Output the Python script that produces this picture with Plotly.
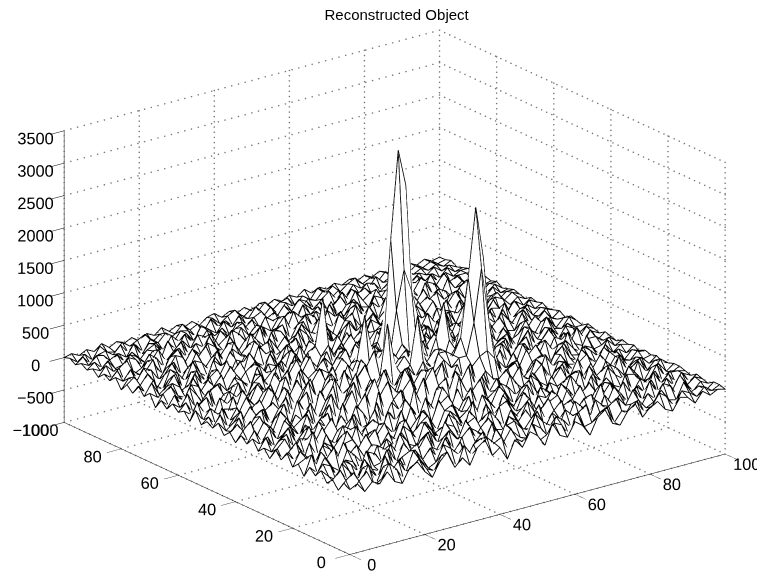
import math
import plotly.graph_objects as go

x_ticks = [0, 20, 40, 60, 80, 100]
y_ticks = [0, 20, 40, 60, 80, 100]
z_ticks = [-1000, -500, 0, 500, 1000, 1500, 2000, 2500, 3000, 3500]
grid_x = [i * 2 for i in range(51)]
grid_y = [i * 2 for i in range(51)]
# Heights, in steps of 30 (row = y, column = x)
z_steps = [
[0,2,-3,1,-1,4,-2,-4,3,5, -1,-5,2,6,-3,1,-4,4,7,-2, 1,-6,3,-2,5,2,-4,6,-1,-3, 4,1,-5,3,6,-2,-4,2,5,-3, 1,3,-2,-4,2,1,-3,2,-1,1, 0],
[2,-4,1,5,-3,-1,6,2,-5,1, 4,-2,-4,3,1,-6,5,-1,-3,6, 2,4,-5,1,-2,7,-3,-1,4,2, -5,6,-2,-1,3,5,-4,1,-2,4, -3,-1,5,2,-4,3,1,-2,2,-1, 1],
[-3,1,4,-2,6,-5,3,-1,4,-3, 7,1,-4,-2,6,3,-1,-5,2,4, -3,7,-1,5,-4,-2,4,1,-6,5, 2,-3,4,7,-4,-1,3,6,-5,1, 2,-3,-1,4,-2,-3,5,-1,1,-2, 1],
[1,5,-2,-5,3,1,-4,6,-2,2, -5,5,-1,4,-3,7,-2,3,-6,1, 5,-2,-4,6,1,-3,-5,7,2,-1, -4,5,1,-2,-5,6,2,-3,4,-1, 6,-4,2,-2,5,3,-4,2,-3,1, -1],
[-2,-3,6,1,-4,5,-1,-3,7,-4, 1,3,6,-5,2,-1,5,-4,3,7, -1,-3,6,-5,3,4,-1,-2,6,-4, 3,-1,-3,6,2,-2,-5,5,-1,3, -4,4,-3,6,-1,1,-2,5,-1,2, 0],
[3,-1,-4,5,2,-3,7,-2,-1,5, -3,6,-4,1,7,-3,-2,6,1,-5, 4,1,-2,3,-6,5,2,-4,1,7, -3,2,6,-4,-1,4,5,-3,-2,6, 1,-5,3,-1,4,-4,3,-2,4,-2, 1],
[-1,4,2,-6,3,1,-5,4,2,-6, 5,-1,2,-4,3,6,-5,1,4,-2, 7,-5,1,5,-2,-3,6,-1,4,-5, 2,7,-4,1,3,-6,2,-1,7,-4, -2,5,-2,1,-5,6,-1,3,-3,1, -1],
[2,-2,5,-1,-4,6,2,-3,-5,4, 1,-3,7,2,-6,1,4,-3,7,-1, -4,3,5,-3,6,1,-5,3,-2,6, -1,-4,3,5,-2,1,7,-5,2,-1, 4,-3,6,-4,2,-1,4,-3,2,1, 0],
[-4,6,-3,2,7,-4,1,5,-2,3, -6,4,-1,5,-2,-4,7,2,-5,3, 1,-6,7,-1,2,-4,5,7,-3,1, 5,-2,-1,6,-5,4,-3,1,5,-4, 3,1,-5,4,3,-3,-1,5,-2,-1, 1],
[1,3,-5,4,-1,-3,6,-4,1,7, -2,-1,5,-3,6,2,-4,5,-1,-6, 6,2,-4,3,-5,6,-1,-3,4,-2, 7,-5,3,1,-3,6,2,-4,-2,6, -1,3,-2,-4,6,1,-4,2,3,-2, 1],
[-2,5,1,-3,5,2,-6,3,4,-5, 2,6,-4,1,-3,7,-1,3,6,-4, -2,5,1,-6,7,-2,2,-5,6,1, -3,4,-6,5,2,-2,-4,7,1,-3, 5,-4,6,1,-2,-5,5,-1,-2,3, 0],
[4,-1,-4,6,-2,4,1,-5,7,-1, -4,3,1,6,-5,4,-2,-3,7,2, -5,4,6,-2,1,-4,7,2,-3,5, -4,1,6,-2,-5,4,1,3,-5,6, -2,1,-3,5,2,-3,1,4,-3,1, -1],
[-1,2,6,-3,1,-5,6,-2,3,-4, 6,-1,-5,4,2,-3,8,-4,1,5, -2,8,-5,3,-1,6,-5,4,-1,7, 2,-5,3,6,-1,-3,5,-4,2,4, -6,5,-1,2,-4,6,-2,1,2,-2, 1],
[3,-4,1,2,-5,7,-3,1,-2,6, 3,-5,2,5,-3,7,1,-5,6,-1, 9,-2,4,7,-5,2,8,-3,1,-5, 6,3,-2,-4,6,2,-5,1,6,-3, 2,-2,4,-5,3,-1,4,-3,1,-1, 0],
[-3,1,5,-4,3,2,-1,6,-5,2, -1,7,-3,1,8,-2,4,-6,9,3, -4,5,-1,10,-3,7,-5,4,9,-2, 1,-4,7,1,-3,5,-1,-4,3,5, -2,6,-3,-1,5,-4,2,-1,-2,2, 1],
[1,-2,3,5,-4,-1,6,-3,2,7, -4,2,6,-2,-5,9,-1,7,2,-4, 11,1,-3,8,4,-5,11,2,-3,8, -1,5,-4,2,8,-3,2,6,-5,1, 4,-3,2,5,-2,-4,3,2,-3,1, -1],
[-2,4,-4,1,6,-3,2,-5,5,1, -3,5,-1,8,3,-4,12,-2,6,10, -3,5,13,-1,7,10,-4,6,13,0, 7,-3,2,6,-4,1,-2,7,2,-5, 3,1,-4,6,1,-3,4,-1,1,-2, 1],
[3,-1,2,-5,1,4,-6,3,-1,4, 6,-4,9,-1,5,11,-2,8,14,1, 7,12,-2,9,15,3,-1,10,5,12, -2,6,1,-5,4,6,-3,1,-4,6, -1,4,-2,-3,5,2,-2,3,-2,1, 0],
[-1,5,-2,4,-3,6,1,-4,6,-2, 1,8,-3,5,12,-1,7,15,2,10, 5,16,8,-1,12,6,14,2,11,-2, 8,12,14,9,-1,3,5,-4,2,4, -5,3,6,-1,-4,3,1,-4,3,-1, 1],
[2,-3,-1,6,2,-4,5,-1,2,6, -5,3,11,1,7,14,3,10,6,16, -1,9,14,5,11,2,9,13,8,12, 12,28,55,26,6,-4,2,-1,7,-3, 2,-4,1,5,-2,-3,6,-2,-1,2, -1],
[-3,2,6,-4,1,-2,7,-5,3,-1, 7,-2,6,13,-3,9,16,4,11,7, 14,3,10,12,6,13,4,15,15,12, 20,50,85,58,12,3,-2,5,-3,2, 6,-1,-5,3,4,-1,-4,2,2,-1, 0],
[1,4,-3,1,5,-5,2,3,-4,8, 1,-4,10,2,14,5,8,12,17,2, 9,35,13,4,11,35,10,6,15,8, 13,28,52,26,9,-1,6,-2,-4,6, 1,-3,5,-1,-4,6,-1,-3,4,-2, 1],
[-2,-1,5,-4,3,6,-3,-1,6,-4, 5,9,-1,7,12,1,15,6,10,14, 21,10,15,9,14,7,16,8,13,4, 16,9,12,8,14,5,-3,7,1,-4, 4,-2,2,-5,3,1,-3,5,-2,1, -1],
[3,-2,1,6,-5,2,4,-5,2,7, -3,4,12,3,-1,13,7,11,5,16, 8,12,18,6,11,15,5,13,7,17, 34,14,6,12,3,9,-2,4,6,-3, 2,5,-4,1,6,-4,2,-1,-3,2, 0],
[-1,5,-3,2,-1,5,-6,1,4,-2, 8,-1,6,11,-2,8,14,4,13,7, 11,6,16,9,13,5,12,9,15,6, 10,13,4,10,7,-1,8,2,-5,5, -3,1,6,-3,-1,4,-3,3,1,-2, 1],
[1,-4,6,-2,4,-3,2,5,-3,6, -2,3,10,-3,7,13,2,9,15,4, 12,34,14,5,11,8,14,6,10,13, 3,11,7,2,12,4,-4,6,-1,3, 5,-4,-1,5,-2,3,1,-4,2,-1, -1],
[-2,1,-5,3,2,-1,6,-4,1,8, -1,6,2,12,3,-2,10,7,14,2, 9,13,6,15,10,4,30,50,38,22, 8,13,2,9,5,11,-2,3,7,-4, 1,2,-5,4,1,-2,6,-1,-2,3, 0],
[4,-2,3,-1,-5,6,-3,3,-2,4, 7,-3,9,-1,11,5,8,13,3,10, 15,6,12,8,13,7,65,110,91,20, 11,5,12,-1,8,-3,6,2,-5,6, -2,4,-3,-1,5,-4,2,3,-3,1, 1],
[-3,6,-1,-4,5,1,-4,6,-1,7, 1,-4,5,10,-2,7,14,2,11,6, 12,4,14,9,5,12,24,72,48,11, 3,9,-2,11,4,7,-4,1,5,-2, 6,-1,3,-5,2,-1,4,-3,1,-1, -1],
[1,-2,2,5,-3,-2,5,1,-5,2, 5,-1,8,1,6,12,-1,9,4,12, 2,10,7,13,3,9,5,11,2,8, 12,-1,7,3,-2,9,1,5,-3,4, -4,2,6,-2,-3,5,-2,-1,3,-2, 1],
[-1,3,-4,1,6,-4,2,-3,6,-3, 4,7,-3,6,-2,9,4,11,-1,8, 13,3,9,-2,11,6,1,8,12,-2, 5,9,1,6,-4,5,-1,7,2,-5, 3,-2,-4,6,1,-3,4,-2,-1,2, 0],
[2,-1,5,-3,-2,4,6,-5,3,1, -4,6,1,-3,8,1,7,-2,10,12, 36,-1,8,4,-3,10,3,-1,7,4, -3,6,2,-4,7,1,-3,4,-2,5, 1,-5,3,-1,5,-4,1,3,-2,1, -1],
[-2,4,-3,6,1,-5,2,4,-1,5, 2,-3,7,-1,3,6,-4,8,2,-3, 9,1,-4,7,2,-3,6,-2,9,-1, 2,-5,8,-1,3,-4,6,1,-3,2, 5,-1,-3,4,-2,6,-3,1,2,-1, 1],
[1,-3,1,-2,5,3,-4,1,6,-5, 4,-1,-4,6,1,-3,5,-1,6,-4, 2,7,-3,1,6,-5,3,5,-2,4, -5,3,1,6,-2,4,-5,2,6,-3, -1,4,1,-5,3,2,-2,4,-3,2, 0],
[-4,2,5,-1,-3,6,-2,3,-4,1, 7,-3,2,5,-6,3,1,-4,7,2, -5,3,-1,5,-4,2,7,-3,1,-5, 6,-1,-3,4,5,-3,1,-4,3,5, -2,6,-4,2,-1,5,-3,-2,1,-2, 1],
[2,-1,-3,4,1,-5,6,-1,2,5, -3,1,6,-2,4,-4,6,-1,3,-5, 6,-2,4,1,-3,6,-4,1,5,-2, 3,6,-4,1,-3,6,-2,5,-1,-4, 3,1,-2,6,-3,-1,4,2,-2,1, -1],
[-1,5,-2,1,6,-3,-1,5,-4,3, -1,6,-3,-5,7,1,-2,5,-4,6, 1,-3,5,-5,7,1,-2,4,-5,6, 1,-4,3,6,-1,-3,5,1,-5,4, 2,-4,5,-1,3,-5,1,4,-1,2, 0],
[3,-2,4,-5,2,4,-6,3,1,-4, 6,2,-5,3,1,-3,7,2,-5,1, 4,6,-2,-4,3,6,-2,-3,7,1, -4,5,2,-5,3,1,-4,6,2,-3, -1,5,-2,3,-4,6,-3,1,-2,1, 1],
[-2,1,6,-1,-4,5,2,-3,6,-1, -4,5,-1,6,-4,2,-5,4,6,-2, -3,1,7,-1,-5,2,4,-6,2,5, -2,-3,6,-1,5,-4,2,-3,6,-1, 4,-3,1,6,-2,-4,5,-1,3,-1, 0],
[1,4,-3,2,-5,1,6,-5,1,4, 2,-3,6,-2,5,1,-3,6,-3,5, -1,4,-3,6,2,-4,6,1,-3,4, 7,-5,1,3,-2,6,-1,4,-4,2, 5,-2,-5,3,4,-1,-3,4,-1,2, -1],
[-3,2,-1,5,3,-3,2,4,-4,-2, 6,-4,1,3,-5,6,-1,3,1,-4, 6,-2,1,-5,6,1,-1,3,-5,6, -1,2,-4,6,-3,1,5,-2,1,5, -3,1,4,-1,-5,3,6,-2,-2,1, 1],
[2,-1,4,-3,1,6,-4,-1,5,3, -5,1,6,-3,-1,4,2,-5,6,1, -3,5,3,-3,-1,5,-3,4,1,-2, 5,-3,6,-1,2,-4,6,1,-4,3, -1,5,-2,3,1,-4,2,-3,3,-1, 0],
[-1,3,-4,1,-2,4,1,-5,3,6, -2,4,-4,5,2,-3,5,-4,1,-2, 6,-4,2,4,-5,2,6,-1,-3,5, 1,-4,3,5,-2,3,-1,-4,6,-2, 2,-4,6,-1,-3,5,-1,2,-2,2, 1],
[1,-2,2,5,-3,-1,5,2,-4,1, 4,-2,1,-3,6,-1,-4,6,3,-2, 1,4,-5,1,6,-3,-1,4,2,-5, 6,-1,-2,4,1,-5,4,2,-1,-3, 5,1,-3,4,2,-3,1,3,-2,-1, -1],
[-2,3,-1,-3,4,2,-3,-1,4,-3, 1,5,-3,2,-1,5,-2,1,-5,4, -1,3,1,-2,4,-4,5,1,-3,2, -2,5,-4,1,3,-2,-3,5,-2,3, -3,2,-1,5,-3,-1,4,-2,1,1, 0],
[1,-1,3,-2,-1,3,1,-3,2,-4, 5,-1,3,-2,4,2,-4,3,-1,2, 4,-2,-3,4,1,-2,3,-3,5,-1, 2,-3,1,4,-2,5,-1,2,-4,1, 4,-3,2,1,-4,3,-2,2,-1,1, 1],
[-1,2,-2,1,3,-2,2,-3,1,3, -2,1,-3,4,-1,-2,3,-1,2,-3, 3,-1,2,-3,1,3,-2,1,-2,3, -1,2,-3,-1,4,-2,1,3,-2,-1, 2,-2,3,-1,2,-2,1,-2,2,-1, 0],
[1,-1,3,2,-3,1,-2,4,-3,2, 1,-4,3,-1,2,-3,4,1,-2,3, -1,4,-2,1,3,-4,-2,3,-1,4, 2,-3,1,4,-1,-3,2,-1,3,2, -3,1,-2,3,-2,1,-1,2,-1,1, -1],
[-1,2,-3,1,2,-1,3,-2,1,-4, 2,-1,3,-3,2,1,-3,-2,4,-1, 1,-3,2,-1,4,-2,2,-3,2,-1, -3,1,-1,3,-2,1,-3,2,-1,-2, 3,-1,1,-2,2,-1,1,-1,1,-1, 1],
[1,-2,1,-3,3,-1,-2,2,-1,1, 3,-2,1,-3,-1,3,-1,1,-3,2, -2,1,3,-2,1,-1,3,-2,1,2, -3,1,-2,3,-1,2,-2,1,3,-1, 1,-2,2,-1,1,-2,1,-1,1,-1, 0],
[0,1,-1,1,-1,2,-1,1,-1,1, -2,1,-1,2,-1,1,-1,1,-2,1, 2,-1,1,-1,1,-2,1,-1,1,-1, 1,-1,2,-1,1,-1,1,-1,1,-1, 1,-1,1,-1,1,-1,1,-1,1,-1, 0],
]
z_values = [[v * 30 for v in row] for row in z_steps]
# White sheet just under the wires, so that the mesh hides what is behind it
sheet_drop = 25
z_sheet = [[v - sheet_drop for v in row] for row in z_values]

wire_x, wire_y, wire_z = [], [], []
for j, y in enumerate(grid_y):
    wire_x += list(grid_x) + [None]
    wire_y += [y] * len(grid_x) + [None]
    wire_z += z_values[j] + [None]
for i, x in enumerate(grid_x):
    wire_x += [x] * len(grid_y) + [None]
    wire_y += list(grid_y) + [None]
    wire_z += [row[i] for row in z_values] + [None]

theta = math.radians(37.7)
phi = math.radians(20.2)
R = 2.0
eye = dict(x=-R*math.sin(theta)*math.cos(phi), y=-R*math.cos(theta)*math.cos(phi), z=R*math.sin(phi))

fig = go.Figure()
fig.add_trace(go.Surface(x=grid_x, y=grid_y, z=z_sheet, showscale=False, colorscale=[[0, "white"], [1, "white"]],
    lighting=dict(ambient=1, diffuse=0, specular=0, fresnel=0), hoverinfo="skip"))
fig.add_trace(go.Scatter3d(x=wire_x, y=wire_y, z=wire_z, mode="lines", showlegend=False, hoverinfo="skip",
    line=dict(color="black", width=1.8)))

X0, X1, Y0, Y1, Z0, Z1 = 0, 100, 0, 100, -1000, 3500
N_DOTS = 56
def dotted(p, q):
    xs = [p[0] + (q[0]-p[0])*k/N_DOTS for k in range(N_DOTS+1)]
    ys = [p[1] + (q[1]-p[1])*k/N_DOTS for k in range(N_DOTS+1)]
    zs = [p[2] + (q[2]-p[2])*k/N_DOTS for k in range(N_DOTS+1)]
    fig.add_trace(go.Scatter3d(x=xs, y=ys, z=zs, mode="markers", showlegend=False, hoverinfo="skip",
        marker=dict(color="#777777", size=0.9, line=dict(width=0))))
for t in x_ticks:
    dotted((t, Y0, Z0), (t, Y1, Z0))
    dotted((t, Y1, Z0), (t, Y1, Z1))
for t in y_ticks:
    dotted((X0, t, Z0), (X1, t, Z0))
    dotted((X1, t, Z0), (X1, t, Z1))
for t in z_ticks:
    dotted((X0, Y1, t), (X1, Y1, t))
    dotted((X1, Y0, t), (X1, Y1, t))

def axis(lo, hi, ticks, ticklen):
    return dict(range=[lo, hi], tickvals=ticks, ticktext=[str(t).replace("-", "\u2212") for t in ticks], showgrid=False, zeroline=False,
        showbackground=False, showline=True, linecolor="black", linewidth=1, ticks="outside", ticklen=ticklen, tickwidth=1, tickcolor="black", tickangle=0,
        title=dict(text=""), showspikes=False, tickfont=dict(family="Liberation Sans", size=14, color="black"))

fig.update_layout(width=765, height=577, margin=dict(l=0, r=0, t=0, b=0), paper_bgcolor="white", showlegend=False,
    title=dict(text="Reconstructed Object", x=0.508, xanchor="center", y=0.988, yanchor="middle", font=dict(family="Liberation Sans", size=15, color="black")),
    scene=dict(domain=dict(x=[0, 1], y=[0, 1]), aspectmode="manual", aspectratio=dict(x=1.635, y=1.635, z=1.08),
        camera=dict(projection=dict(type="orthographic"), eye=eye, up=dict(x=0, y=0, z=1), center=dict(x=-0.0114, y=0.0087, z=-0.0153)),
        xaxis=axis(X0, X1, x_ticks, 18), yaxis=axis(Y0, Y1, y_ticks, 18), zaxis=axis(Z0, Z1, z_ticks, 18)))
fig.write_html("out.html")
